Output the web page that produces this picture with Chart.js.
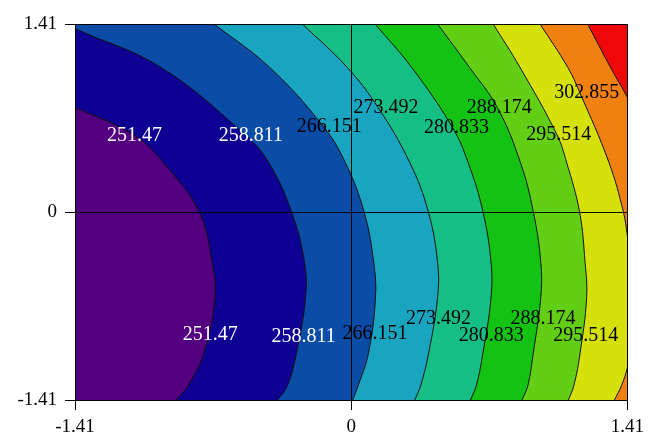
<!DOCTYPE html>
<html>
<head>
<meta charset="utf-8">
<script src="https://cdn.jsdelivr.net/npm/chart.js@4.4.1/dist/chart.umd.min.js"></script>
<style>
  html, body { margin: 0; padding: 0; background: #fff; }
  #wrap { width: 650px; height: 438px; }
</style>
</head>
<body>
<div id="wrap"><canvas id="contour-chart"></canvas></div>
<script>
// contour levels and their printed labels
const levels = [251.47, 258.811, 266.151, 273.492, 280.833, 288.174, 295.514, 302.855, 310.196];
const levelLabels = ["251.47", "258.811", "266.151", "273.492", "280.833", "288.174", "295.514", "302.855", "310.196"];

const tickValues = [-1.41, 0, 1.41];
const tickLabels = ["-1.41", "0", "1.41"];

// contour lines, [x, y], top edge down to bottom edge
// (points just outside the frame carry the lines that leave through a side)
const contour251 = [[-2.4, 1.41], [-1.41, 0.784], [-1.106, 0.574], [-0.959, 0.371], [-0.776, 0.0], [-0.71, -0.379], [-0.695, -0.641], [-0.751, -1.054], [-0.832, -1.301], [-0.893, -1.41]];
const contour258 = [[-1.45, 1.41], [-1.41, 1.376], [-0.971, 1.084], [-0.538, 0.574], [-0.421, 0.371], [-0.304, 0.0], [-0.238, -0.379], [-0.233, -0.641], [-0.279, -1.054], [-0.325, -1.301], [-0.375, -1.41]];
const contour266 = [[-0.70, 1.41], [-0.416, 1.084], [-0.142, 0.641], [-0.03, 0.371], [0.066, 0.0], [0.115, -0.379], [0.124, -0.641], [0.089, -1.054], [0.036, -1.301], [0.008, -1.41]];
const contour273 = [[-0.249, 1.41], [-0.02, 1.084], [0.137, 0.784], [0.299, 0.371], [0.394, 0.0], [0.441, -0.379], [0.441, -0.641], [0.396, -1.054], [0.355, -1.301], [0.325, -1.41]];
const contour280 = [[0.122, 1.41], [0.309, 1.084], [0.517, 0.634], [0.597, 0.371], [0.673, 0.0], [0.714, -0.379], [0.714, -0.641], [0.673, -1.054], [0.639, -1.301], [0.609, -1.41]];
const contour288 = [[0.441, 1.41], [0.604, 1.084], [0.746, 0.784], [0.864, 0.371], [0.93, 0.0], [0.968, -0.379], [0.968, -0.641], [0.93, -1.054], [0.902, -1.301], [0.872, -1.41]];
const contour295 = [[0.725, 1.41], [0.862, 1.084], [1.05, 0.581], [1.10, 0.371], [1.166, 0.0], [1.194, -0.379], [1.202, -0.641], [1.169, -1.054], [1.137, -1.301], [1.109, -1.41]];
const contour302 = [[0.964, 1.41], [1.106, 1.084], [1.167, 0.896], [1.316, 0.371], [1.39, 0.0], [1.41, -0.176], [1.435, -0.379], [1.44, -0.641], [1.415, -1.054], [1.41, -1.166], [1.38, -1.301], [1.344, -1.41]];
const contour310 = [[1.207, 1.41], [1.324, 1.084], [1.41, 0.859], [1.6, 0.3], [1.9, -1.41]];
const contours = [contour251, contour258, contour266, contour273, contour280, contour288, contour295, contour302, contour310];

// where the level labels sit (upper row, then lower row)
const labelLevel = [0, 1, 2, 3, 4, 5, 6, 7, 0, 1, 2, 3, 4, 5, 6];
const labelX = [-1.106, -0.512, -0.112, 0.178, 0.538, 0.756, 1.06, 1.202, -0.72, -0.243, 0.122, 0.446, 0.715, 0.979, 1.197];
const labelY = [0.574, 0.574, 0.641, 0.784, 0.634, 0.784, 0.581, 0.896, -0.919, -0.934, -0.911, -0.799, -0.926, -0.799, -0.926];

// band colours, lowest band first
const bandColors = ["#52007f", "#0f0094", "#0b4ca6", "#19a5c0", "#14be84", "#13c212", "#62cf14", "#d6e00a", "#f08010", "#f00808"];

const FONT = '"Liberation Serif", "Times New Roman", serif';

const contourLabels = {
  id: "contourLabels",
  afterDatasetsDraw(chart) {
    const { ctx, scales: { x, y } } = chart;
    ctx.save();
    ctx.font = "20px " + FONT;
    ctx.textAlign = "center";
    ctx.textBaseline = "middle";
    labelLevel.forEach((li, k) => {
      ctx.fillStyle = li < 2 ? "#ffffff" : "#000000";
      ctx.fillText(levelLabels[li], x.getPixelForValue(labelX[k]), y.getPixelForValue(labelY[k]));
    });
    ctx.restore();
  },
};

function buildDatasets() {
  const sets = [{
    label: "base",
    data: [{ x: -2.5, y: 1.6 }, { x: -2.5, y: -1.6 }],
    fill: { value: 2.5 },
    backgroundColor: bandColors[0],
    borderWidth: 0,
    pointRadius: 0,
    order: 100,
  }];
  contours.forEach((pts, i) => {
    sets.push({
      label: levelLabels[i],
      data: pts.map((p) => ({ x: p[0], y: p[1] })),
      fill: { value: 2.5 },
      backgroundColor: bandColors[i + 1],
      borderColor: "#111111",
      borderWidth: 1,
      pointRadius: 0,
      tension: 0.4,
      order: contours.length - i,
    });
  });
  return sets;
}

function axisOptions(isX) {
  return {
    type: "linear",
    min: -1.41,
    max: 1.41,
    afterBuildTicks: (s) => { s.ticks = tickValues.map((v) => ({ value: v })); },
    afterFit: (s) => { if (isX) s.height = 38; else s.width = 75; },
    grid: { z: 1, color: "#000", lineWidth: 1, tickLength: 10, tickColor: "#000" },
    border: { z: 1, display: true, color: "#000", width: 1 },
    ticks: {
      z: 1,
      color: "#000",
      font: { family: FONT, size: 19 },
      padding: isX ? 6 : 8,
      maxRotation: 0,
      autoSkip: false,
      callback: (v, i) => tickLabels[i],
    },
  };
}

const chart = new Chart(document.getElementById("contour-chart").getContext("2d"), {
  type: "line",
  data: { datasets: buildDatasets() },
  options: {
    indexAxis: "y",
    responsive: true,
    maintainAspectRatio: false,
    animation: false,
    layout: { padding: { top: 24, right: 19, left: 0, bottom: 0 } },
    elements: { line: { capBezierPoints: false } },
    plugins: { legend: { display: false }, tooltip: { enabled: false } },
    scales: { x: axisOptions(true), y: axisOptions(false) },
  },
  plugins: [contourLabels],
});
</script>
</body>
</html>
